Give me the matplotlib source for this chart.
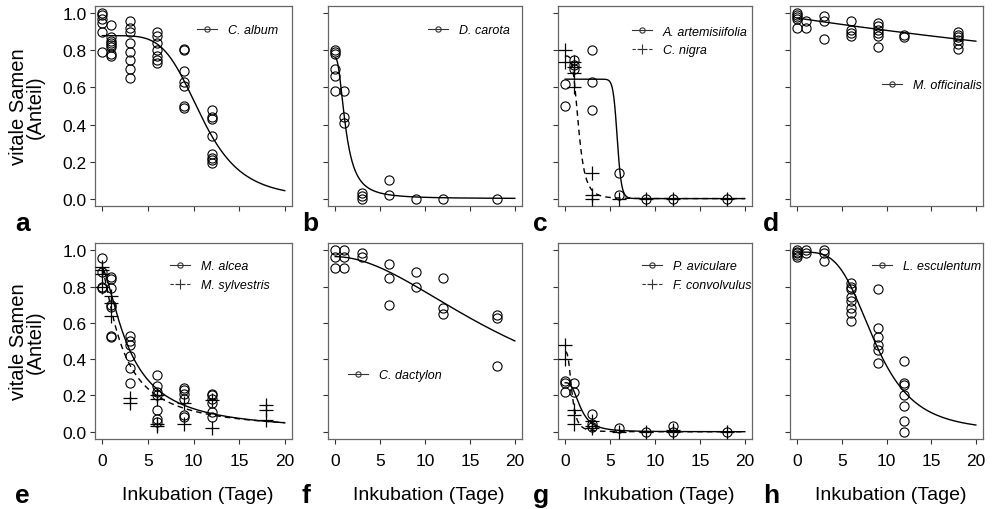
import numpy as np
import matplotlib
matplotlib.use('Agg')
import matplotlib.pyplot as plt
from matplotlib.lines import Line2D

plt.rcParams['font.family'] = ['Liberation Sans', 'DejaVu Sans']

# ---------------- data ----------------
# a: C. album
a_days = [0, 1, 3, 6, 9, 12]
a_vals = [[1.00, 0.99, 0.97, 0.95, 0.90, 0.79],
          [0.94, 0.87, 0.85, 0.84, 0.83, 0.82, 0.78, 0.77],
          [0.96, 0.92, 0.90, 0.84, 0.79, 0.75, 0.70, 0.65],
          [0.90, 0.88, 0.84, 0.80, 0.77, 0.75, 0.73],
          [0.81, 0.80, 0.69, 0.63, 0.61, 0.50, 0.49],
          [0.48, 0.44, 0.43, 0.34, 0.24, 0.22, 0.21, 0.19]]
a_fit = (4.9, 0.88, 10.9)      # log-logistic (b, d, e)

# b: D. carota
b_days = [0, 1, 3, 6, 9, 12, 18]
b_vals = [[0.80, 0.79, 0.78, 0.70, 0.66, 0.58],
          [0.58, 0.44, 0.41],
          [0.03, 0.015, 0.0],
          [0.10, 0.02],
          [0.0], [0.0], [0.0]]
b_fit = (2.2, 0.76, 1.18)

# c: A. artemisiifolia / C. nigra
c1_days = [0, 1, 3, 6, 9, 12, 18]
c1_vals = [[0.62, 0.50], [0.75, 0.72, 0.70], [0.80, 0.63, 0.48],
           [0.14, 0.02], [0.0], [0.0], [0.0]]
c1_fit = (25.0, 0.645, 5.8)
c2_days = [0, 1, 3, 6, 9, 12, 18]
c2_vals = [[0.80, 0.74], [0.74, 0.71, 0.68, 0.60], [0.14, 0.02, 0.0],
           [0.0], [0.0], [0.0], [0.0]]
c2_fit = (4.0, 0.77, 1.49)

# d: M. officinalis
d_days = [0, 1, 3, 6, 9, 12, 18]
d_vals = [[1.00, 0.99, 0.98, 0.97, 0.92],
          [0.96, 0.92],
          [0.985, 0.96, 0.86],
          [0.96, 0.91, 0.895, 0.88],
          [0.95, 0.93, 0.91, 0.895, 0.88, 0.82],
          [0.885, 0.87],
          [0.90, 0.885, 0.87, 0.855, 0.835, 0.81]]
d_fit = (1.0, 0.975, 136.0)

# e: M. alcea / M. sylvestris
e1_days = [0, 1, 3, 6, 9, 12]
e1_vals = [[0.96, 0.88, 0.80, 0.79],
           [0.85, 0.84, 0.79, 0.70, 0.69, 0.53, 0.52],
           [0.53, 0.50, 0.48, 0.42, 0.35, 0.27],
           [0.31, 0.25, 0.22, 0.20, 0.12, 0.07, 0.055],
           [0.24, 0.23, 0.21, 0.18, 0.09, 0.08],
           [0.21, 0.20, 0.18, 0.16, 0.11, 0.08]]
e1_fit = (1.5, 0.90, 3.0)
e2_days = [0, 1, 3, 6, 9, 12, 18]
e2_vals = [[0.91, 0.89, 0.87, 0.80],
           [0.75, 0.71, 0.64],
           [0.185, 0.16],
           [0.20, 0.18, 0.045, 0.03],
           [0.16, 0.04],
           [0.175, 0.02],
           [0.15, 0.12, 0.065]]
e2_fit = (1.305, 0.90, 2.28)

# f: C. dactylon
f_days = [0, 1, 3, 6, 9, 12, 18]
f_vals = [[1.0, 0.963, 0.904], [1.0, 0.963, 0.904], [0.985, 0.965],
          [0.926, 0.845, 0.70], [0.88, 0.80], [0.845, 0.683, 0.65],
          [0.645, 0.627, 0.36]]
f_fit = (1.89, 0.965, 20.8)

# g: P. aviculare / F. convolvulus
g1_days = [0, 1, 3, 6, 9, 12, 18]
g1_vals = [[0.28, 0.27, 0.22], [0.27, 0.22], [0.10, 0.04, 0.025],
           [0.02], [0.0], [0.03, 0.0], [0.0]]
g1_fit = (2.81, 0.27, 1.70)
g2_days = [0, 1, 3, 6, 9, 12, 18]
g2_vals = [[0.48, 0.40], [0.12, 0.09, 0.04], [0.06, 0.03, 0.02],
           [0.0], [0.0], [0.01, 0.0], [0.0]]
g2_fit = (3.0, 0.44, 0.75)

# h: L. esculentum
h_days = [0, 1, 3, 6, 9, 12]
h_vals = [[1.0, 0.99, 0.985, 0.975, 0.965],
          [1.0, 0.985],
          [1.0, 0.985, 0.94],
          [0.82, 0.80, 0.785, 0.74, 0.72, 0.68, 0.655, 0.61],
          [0.785, 0.57, 0.52, 0.48, 0.45, 0.38],
          [0.39, 0.27, 0.26, 0.20, 0.14, 0.06, 0.0]]
h_fit = (3.9, 0.99, 8.7)

x_ticks = [0, 5, 10, 15, 20]
y_ticks = [0.0, 0.2, 0.4, 0.6, 0.8, 1.0]
y_label = 'vitale Samen\n(Anteil)'
x_label = 'Inkubation (Tage)'

# ---------------- layout ----------------
W, H = 994, 510
fig = plt.figure(figsize=(W / 100, H / 100), dpi=100)

col_px = [(95, 292), (328, 522), (558, 752), (790, 983)]
row_px = [(7, 207), (244, 440)]

CIRCLE = dict(marker='o', ms=6.6, mfc='none', mec='black', mew=0.8, ls='none')
CROSS = dict(marker='+', ms=10, mec='black', mew=0.9, ls='none')


def ll3(x, p):
    b, d, e = p
    return d / (1.0 + (x / e) ** b)


panels = [
    # letter, row, col, series list, legend (start_px, rows_px)
    ('a', 0, 0, [('C. album', a_days, a_vals, 'o', '-', a_fit)], (197, [31])),
    ('b', 0, 1, [('D. carota', b_days, b_vals, 'o', '-', b_fit)], (428, [31])),
    ('c', 0, 2, [('A. artemisiifolia', c1_days, c1_vals, 'o', '-', c1_fit),
                 ('C. nigra', c2_days, c2_vals, '+', '--', c2_fit)], (632, [32, 52])),
    ('d', 0, 3, [('M. officinalis', d_days, d_vals, 'o', '-', d_fit)], (882, [86])),
    ('e', 1, 0, [('M. alcea', e1_days, e1_vals, 'o', '-', e1_fit),
                 ('M. sylvestris', e2_days, e2_vals, '+', '--', e2_fit)], (170, [267, 286])),
    ('f', 1, 1, [('C. dactylon', f_days, f_vals, 'o', '-', f_fit)], (348, [376])),
    ('g', 1, 2, [('P. aviculare', g1_days, g1_vals, 'o', '-', g1_fit),
                 ('F. convolvulus', g2_days, g2_vals, '+', '--', g2_fit)], (642, [267, 286])),
    ('h', 1, 3, [('L. esculentum', h_days, h_vals, 'o', '-', h_fit)], (872, [267])),
]

letter_x = [15, 302, 533, 763]
letter_base = [231, 503]

xs = np.linspace(0, 20, 600)

for letter, r, c, series, (leg_x, leg_rows) in panels:
    l, rr = col_px[c]
    t, b = row_px[r]
    ax = fig.add_axes([l / W, 1 - b / H, (rr - l) / W, (b - t) / H])
    handles, labels = [], []
    for name, days, vals, mk, ls, fit in series:
        style = CIRCLE if mk == 'o' else CROSS
        for d, vs in zip(days, vals):
            ax.plot([d] * len(vs), vs, **style, zorder=3)
        if ls == '-':
            ax.plot(xs, ll3(xs, fit), color='black', lw=1.0, zorder=2)
            h = Line2D([0], [0], color='#333333', lw=0.8, ls='-', marker='o', ms=3.8,
                       mfc='none', mec='#333333', mew=0.8)
        else:
            ax.plot(xs, ll3(xs, fit), color='black', lw=1.0, ls=(0, (4, 3)), zorder=2)
            h = Line2D([0], [0], color='#333333', lw=0.8, ls=(0, (3, 2)), marker='+', ms=6.5,
                       mec='#333333', mew=0.8)
        handles.append(h)
        labels.append(name)

    ax.set_xlim(-0.8, 20.8)
    ax.set_ylim(-0.04, 1.04)
    ax.set_xticks(x_ticks)
    ax.set_yticks(y_ticks)
    ax.set_yticklabels(['%.1f' % v for v in y_ticks])
    ax.tick_params(axis='both', direction='out', length=3.8, width=0.8,
                   color='#333333', labelsize=12.5)
    ax.tick_params(axis='x', pad=6)
    ax.tick_params(axis='y', pad=2)
    for sp in ax.spines.values():
        sp.set_color('#666666')
        sp.set_linewidth(0.9)
    if r == 0:
        ax.tick_params(labelbottom=False)
    if c != 0:
        ax.tick_params(labelleft=False)

    xa = (leg_x - l) / (rr - l)
    ya = 1 - (np.mean(leg_rows) - t) / (b - t)
    ax.legend(handles, labels, loc='center left', bbox_to_anchor=(xa, ya),
              frameon=False, prop={'style': 'italic', 'size': 9},
              handlelength=1.6, handletextpad=0.85, borderpad=0,
              borderaxespad=0, labelspacing=0.55)

    fig.text(letter_x[c] / W, 1 - letter_base[r] / H, letter, fontsize=19,
             fontweight='bold', ha='left', va='baseline')
    if r == 1:
        fig.text(((l + rr) / 2 + 4) / W, 1 - 496 / H, x_label, fontsize=14,
                 ha='center', va='center')
    if c == 0:
        fig.text(27 / W, 1 - ((t + b) / 2) / H, y_label, fontsize=14.5, rotation=90,
                 ha='center', va='center', multialignment='center', linespacing=0.9)

fig.savefig('out.png', dpi=100)
